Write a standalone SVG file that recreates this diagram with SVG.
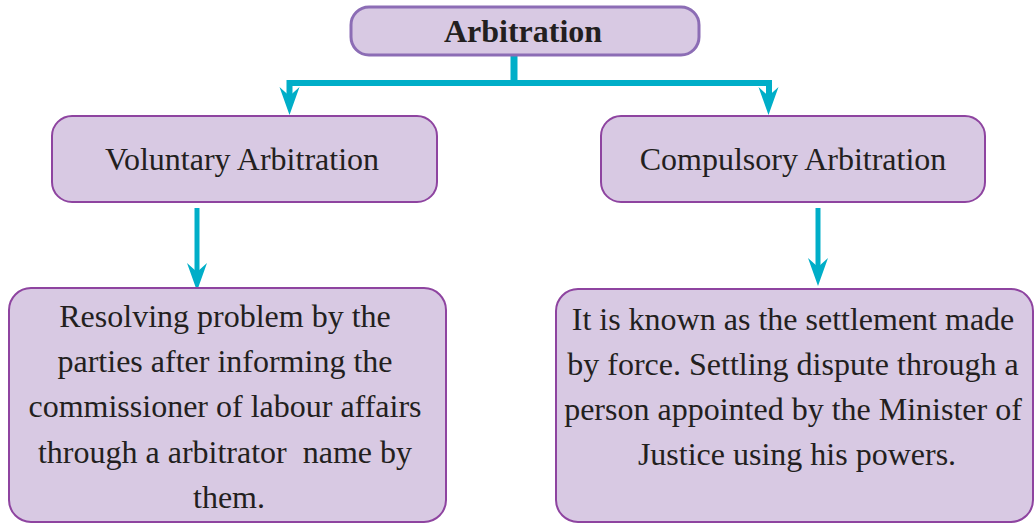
<svg xmlns="http://www.w3.org/2000/svg" width="1036" height="524" viewBox="0 0 1036 524">
  <style>
    .box { fill: #d8c9e3; stroke: #8e44a0; stroke-width: 2; }
    .root { fill: #d8c9e3; stroke: #8c6db5; stroke-width: 3; }
    .txt { font-family: "Liberation Serif", "Times New Roman", serif; font-size: 32px; fill: #231f20; text-anchor: middle; }
    .bold { font-weight: bold; }
    .link { fill: none; stroke: #00aec8; }
    .head { fill: #00aec8; }
  </style>
  <defs>
    <path id="arrowhead" d="M-10,0 L0,28 L10,0 L0,9 Z"/>
  </defs>

  <g id="connectors">
    <!-- root stem and horizontal branch -->
    <path class="link" stroke-width="7" d="M514,55 V83"/>
    <path class="link" stroke-width="6" d="M289.5,83 H769"/>
    <path class="link" stroke-width="6" d="M289.5,80 V96"/>
    <path class="link" stroke-width="6" d="M769,80 V96"/>
    <use href="#arrowhead" class="head" x="289.5" y="87"/>
    <use href="#arrowhead" class="head" x="768.5" y="87"/>
    <!-- second level arrows -->
    <path class="link" stroke-width="5" d="M197,208 V275"/>
    <use href="#arrowhead" class="head" x="197" y="263"/>
    <path class="link" stroke-width="5" d="M818,208 V270"/>
    <use href="#arrowhead" class="head" x="818" y="258"/>
  </g>

  <g id="node-arbitration">
    <rect class="root" x="351" y="7" width="348" height="48" rx="18"/>
    <text class="txt bold" x="523" y="42">Arbitration</text>
  </g>

  <g id="node-voluntary">
    <rect class="box" x="52" y="116" width="385" height="86" rx="20"/>
    <text class="txt" x="242" y="170">Voluntary Arbitration</text>
  </g>

  <g id="node-compulsory">
    <rect class="box" x="601" y="116" width="384" height="86" rx="20"/>
    <text class="txt" x="793" y="170">Compulsory Arbitration</text>
  </g>

  <g id="node-voluntary-desc">
    <rect class="box" x="9" y="288" width="437" height="234" rx="22"/>
    <text class="txt">
      <tspan x="229" y="327">Resolving problem by the</tspan>
      <tspan x="229" y="372">parties after informing the</tspan>
      <tspan x="229" y="417">commissioner of labour affairs</tspan>
      <tspan x="229" y="463" xml:space="preserve">through a arbitrator  name by</tspan>
      <tspan x="229" y="508">them.</tspan>
    </text>
  </g>

  <g id="node-compulsory-desc">
    <rect class="box" x="556" y="289" width="477" height="233" rx="22"/>
    <text class="txt">
      <tspan x="797" y="330">It is known as the settlement made</tspan>
      <tspan x="797" y="375">by force. Settling dispute through a</tspan>
      <tspan x="797" y="420">person appointed by the Minister of</tspan>
      <tspan x="797" y="465">Justice using his powers.</tspan>
    </text>
  </g>
</svg>
